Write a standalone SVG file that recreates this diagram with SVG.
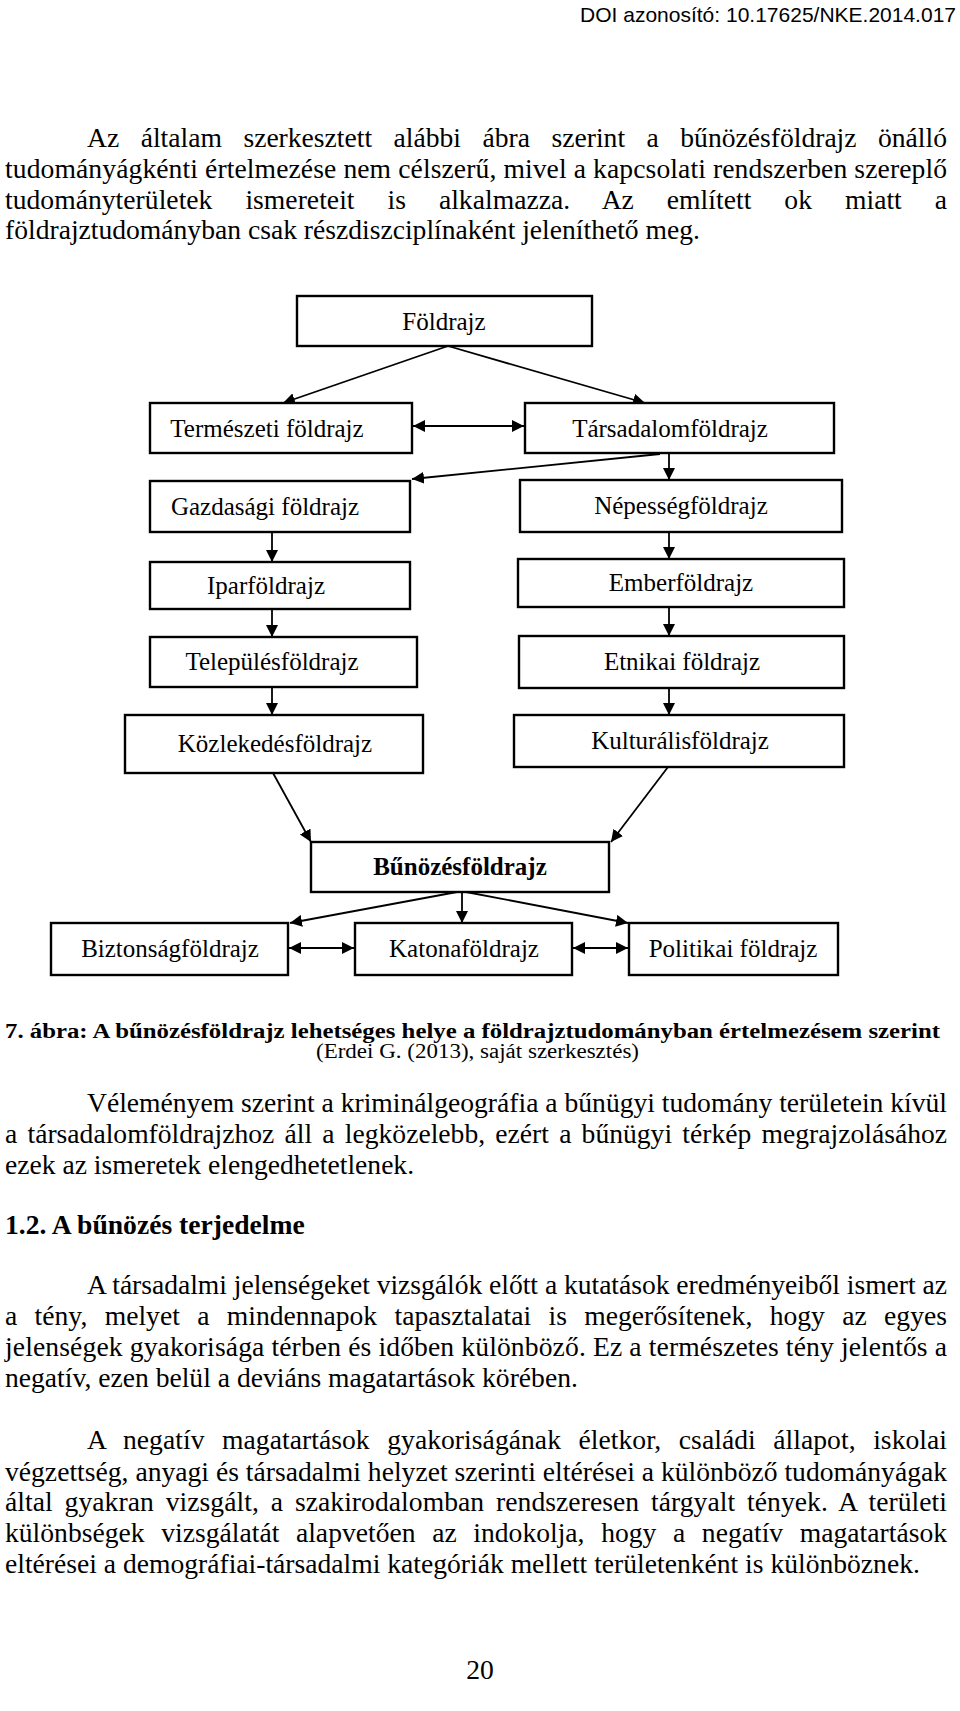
<svg xmlns="http://www.w3.org/2000/svg" width="960" height="1711" viewBox="0 0 960 1711">
<style>
.bg{fill:#fff}
.box{fill:#fff;stroke:#000;stroke-width:2.4}
.lbl{font-family:"Liberation Serif","Times New Roman",serif;font-size:25px;fill:#000;text-anchor:middle}
.bold{font-weight:bold}
.con{fill:none;stroke:#000;stroke-width:1.8}
.body{font-family:"Liberation Serif","Times New Roman",serif;font-size:27.6px;fill:#000}
.cap{font-family:"Liberation Serif","Times New Roman",serif;font-size:20.5px;fill:#000}
.doi{font-family:"Liberation Sans",Arial,sans-serif;font-size:21px;fill:#000;text-anchor:end}
</style>
<defs>
<marker id="ah" viewBox="0 0 12 12" refX="12" refY="6" markerWidth="12" markerHeight="12" markerUnits="userSpaceOnUse" orient="auto-start-reverse">
<path d="M0,0 L12,6 L0,12 z" fill="#000"/>
</marker>
</defs>
<rect class="bg" x="0" y="0" width="960" height="1711"/>

<text class="doi" x="956" y="22">DOI azonosító: 10.17625/NKE.2014.017</text>

<g id="para1" class="body">
<text x="87" y="147" style="word-spacing:14.6px" textLength="860" lengthAdjust="spacing">Az általam szerkesztett alábbi ábra szerint a bűnözésföldrajz önálló</text>
<text x="5" y="178" textLength="942" lengthAdjust="spacing">tudományágkénti értelmezése nem célszerű, mivel a kapcsolati rendszerben szereplő</text>
<text x="5" y="209" style="word-spacing:26px" textLength="942" lengthAdjust="spacing">tudományterületek ismereteit is alkalmazza. Az említett ok miatt a</text>
<text x="5" y="239">földrajztudományban csak részdiszciplínaként jeleníthető meg.</text>
</g>

<g id="connectors">
<line class="con" x1="448" y1="346" x2="283" y2="403" marker-end="url(#ah)"/>
<line class="con" x1="448" y1="346" x2="645" y2="403" marker-end="url(#ah)"/>
<line class="con" x1="413" y1="426" x2="524" y2="426" marker-start="url(#ah)" marker-end="url(#ah)"/>
<line class="con" x1="660" y1="454" x2="412" y2="479" marker-end="url(#ah)"/>
<line class="con" x1="669" y1="453" x2="669" y2="480" marker-end="url(#ah)"/>
<line class="con" x1="272" y1="532" x2="272" y2="562" marker-end="url(#ah)"/>
<line class="con" x1="272" y1="609" x2="272" y2="637" marker-end="url(#ah)"/>
<line class="con" x1="272" y1="687" x2="272" y2="715" marker-end="url(#ah)"/>
<line class="con" x1="669" y1="532" x2="669" y2="559" marker-end="url(#ah)"/>
<line class="con" x1="669" y1="607" x2="669" y2="636" marker-end="url(#ah)"/>
<line class="con" x1="669" y1="688" x2="669" y2="715" marker-end="url(#ah)"/>
<line class="con" x1="273" y1="773" x2="311" y2="842" marker-end="url(#ah)"/>
<line class="con" x1="668" y1="767" x2="611" y2="842" marker-end="url(#ah)"/>
<line class="con" x1="457" y1="892" x2="290" y2="923" marker-end="url(#ah)"/>
<line class="con" x1="462" y1="892" x2="462" y2="923" marker-end="url(#ah)"/>
<line class="con" x1="466" y1="892" x2="628" y2="923" marker-end="url(#ah)"/>
<line class="con" x1="289" y1="948" x2="354" y2="948" marker-start="url(#ah)" marker-end="url(#ah)"/>
<line class="con" x1="573" y1="948" x2="628" y2="948" marker-start="url(#ah)" marker-end="url(#ah)"/>
</g>

<g id="n-foldrajz"><rect class="box" x="297" y="296" width="295" height="50"/><text class="lbl" x="444" y="330">Földrajz</text></g>
<g id="n-termeszeti"><rect class="box" x="150" y="403" width="262" height="50"/><text class="lbl" x="267" y="437">Természeti földrajz</text></g>
<g id="n-tarsadalom"><rect class="box" x="525" y="403" width="309" height="50"/><text class="lbl" x="670" y="437">Társadalomföldrajz</text></g>
<g id="n-gazdasagi"><rect class="box" x="150" y="481" width="260" height="51"/><text class="lbl" x="265" y="515">Gazdasági földrajz</text></g>
<g id="n-nepesseg"><rect class="box" x="520" y="480" width="322" height="52"/><text class="lbl" x="681" y="514">Népességföldrajz</text></g>
<g id="n-ipar"><rect class="box" x="150" y="562" width="260" height="47"/><text class="lbl" x="266" y="594">Iparföldrajz</text></g>
<g id="n-ember"><rect class="box" x="518" y="559" width="326" height="48"/><text class="lbl" x="681" y="591">Emberföldrajz</text></g>
<g id="n-telepules"><rect class="box" x="150" y="637" width="267" height="50"/><text class="lbl" x="272" y="670">Településföldrajz</text></g>
<g id="n-etnikai"><rect class="box" x="519" y="636" width="325" height="52"/><text class="lbl" x="682" y="670">Etnikai földrajz</text></g>
<g id="n-kozlekedes"><rect class="box" x="125" y="715" width="298" height="58"/><text class="lbl" x="275" y="752">Közlekedésföldrajz</text></g>
<g id="n-kulturalis"><rect class="box" x="514" y="715" width="330" height="52"/><text class="lbl" x="680" y="749">Kulturálisföldrajz</text></g>
<g id="n-bunozes"><rect class="box" x="311" y="842" width="298" height="50"/><text class="lbl bold" x="460" y="875">Bűnözésföldrajz</text></g>
<g id="n-biztonsag"><rect class="box" x="51" y="923" width="237" height="52"/><text class="lbl" x="170" y="957">Biztonságföldrajz</text></g>
<g id="n-katona"><rect class="box" x="355" y="923" width="217" height="52"/><text class="lbl" x="464" y="957">Katonaföldrajz</text></g>
<g id="n-politikai"><rect class="box" x="629" y="923" width="209" height="52"/><text class="lbl" x="733" y="957">Politikai földrajz</text></g>

<g id="caption" class="cap">
<text x="5" y="1038" font-weight="bold" textLength="935" lengthAdjust="spacingAndGlyphs">7. ábra: A bűnözésföldrajz lehetséges helye a földrajztudományban értelmezésem szerint</text>
<text x="316" y="1058" textLength="323" lengthAdjust="spacingAndGlyphs">(Erdei G. (2013), saját szerkesztés)</text>
</g>

<g id="para2" class="body">
<text x="87" y="1112" textLength="860" lengthAdjust="spacing">Véleményem szerint a kriminálgeográfia a bűnügyi tudomány területein kívül</text>
<text x="5" y="1143" style="word-spacing:3.3px" textLength="942" lengthAdjust="spacing">a társadalomföldrajzhoz áll a legközelebb, ezért a bűnügyi térkép megrajzolásához</text>
<text x="5" y="1174">ezek az ismeretek elengedhetetlenek.</text>
</g>

<text id="heading" class="body" x="5" y="1234" font-weight="bold">1.2. A bűnözés terjedelme</text>

<g id="para3" class="body">
<text x="87" y="1294" textLength="860" lengthAdjust="spacing">A társadalmi jelenségeket vizsgálók előtt a kutatások eredményeiből ismert az</text>
<text x="5" y="1325" style="word-spacing:10.4px" textLength="942" lengthAdjust="spacing">a tény, melyet a mindennapok tapasztalatai is megerősítenek, hogy az egyes</text>
<text x="5" y="1356" textLength="942" lengthAdjust="spacing">jelenségek gyakorisága térben és időben különböző. Ez a természetes tény jelentős a</text>
<text x="5" y="1387">negatív, ezen belül a deviáns magatartások körében.</text>
</g>

<g id="para4" class="body">
<text x="87" y="1449" style="word-spacing:10.6px" textLength="860" lengthAdjust="spacing">A negatív magatartások gyakoriságának életkor, családi állapot, iskolai</text>
<text x="5" y="1481" textLength="942" lengthAdjust="spacing">végzettség, anyagi és társadalmi helyzet szerinti eltérései a különböző tudományágak</text>
<text x="5" y="1511" style="word-spacing:4.9px" textLength="942" lengthAdjust="spacing">által gyakran vizsgált, a szakirodalomban rendszeresen tárgyalt tények. A területi</text>
<text x="5" y="1542" style="word-spacing:9.7px" textLength="942" lengthAdjust="spacing">különbségek vizsgálatát alapvetően az indokolja, hogy a negatív magatartások</text>
<text x="5" y="1573">eltérései a demográfiai-társadalmi kategóriák mellett területenként is különböznek.</text>
</g>

<text id="pagenum" class="body" x="480" y="1679" text-anchor="middle">20</text>
</svg>
